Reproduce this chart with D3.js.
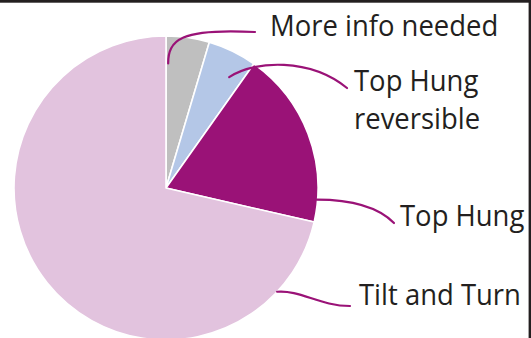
<!DOCTYPE html>
<html>
<head>
<meta charset="utf-8">
<script src="https://cdn.jsdelivr.net/npm/d3@7"></script>
<style>
  html, body { margin: 0; padding: 0; background: #fff; }
  svg { display: block; }
  text { font-family: "Open Sans", "Noto Sans", sans-serif; fill: #231f20; }
</style>
</head>
<body>
<svg id="chart" width="531" height="338"></svg>
<script>
// Window types, share of total (%)
const categories = ["More info needed", "Top Hung reversible", "Top Hung", "Tilt and Turn"];
const shares = [4.6, 5.2, 18.8, 71.4];
const labelLines = [["More info needed"], ["Top Hung", "reversible"], ["Top Hung"], ["Tilt and Turn"]];
const sliceColors = ["#bfbfbf", "#b4c7e7", "#9a1277", "#e2c3de"];

const W = 531, H = 338;
const cx = 166, cy = 188, R = 152;
const leaderColor = "#9a1277";
const fontSize = 30;
const condense = 0.915; // slightly narrowed glyphs
const lineGap = 38;

const svg = d3.select("#chart");

// frame lines along the top and right edges
svg.append("rect").attr("x", 0).attr("y", 0).attr("width", W).attr("height", 2.7).attr("fill", "#231f20");
svg.append("rect").attr("x", W - 2.4).attr("y", 0).attr("width", 2.4).attr("height", H).attr("fill", "#231f20");

const pie = d3.pie().sort(null).value(d => d)(shares);
const arc = d3.arc().innerRadius(0).outerRadius(R);
const color = d3.scaleOrdinal().domain(categories).range(sliceColors);

const g = svg.append("g").attr("transform", `translate(${cx},${cy})`);
g.selectAll("path.slice")
  .data(pie)
  .join("path")
  .attr("class", "slice")
  .attr("d", arc)
  .attr("fill", (d, i) => color(categories[i]))
  .attr("stroke", "#fff")
  .attr("stroke-width", 1.6)
  .attr("stroke-linejoin", "round");

// Leader placement: where it leaves the slice (fraction along the slice's angle,
// fraction of radius), the text anchor, and bezier handles toward the text.
const leaders = [
  { t: 0.06, r: 0.82, text: [270, 36], end: [-15, -4], c1: [0, -23], c2: [-75, -4] },
  { t: 0.70, r: 0.84, text: [354, 91], end: [-7, -3], c1: [26, -17], c2: [-37, -30] },
  { t: 0.874, r: 0.995, text: [400, 226], end: [-6, -3], c1: [33, 0], c2: [-16, -16] },
  { t: 0.117, r: 1.0, text: [359, 305], end: [-9, 1], c1: [23, -2], c2: [-30, 0] }
];

function polar(angle, rad) {
  return [cx + rad * Math.sin(angle), cy - rad * Math.cos(angle)];
}

const ann = svg.append("g");
pie.forEach((d, i) => {
  const L = leaders[i];
  const a = d.startAngle + L.t * (d.endAngle - d.startAngle);
  const p0 = polar(a, L.r * R);
  const p3 = [L.text[0] + L.end[0], L.text[1] + L.end[1]];
  const p = d3.path();
  p.moveTo(p0[0], p0[1]);
  p.bezierCurveTo(p0[0] + L.c1[0], p0[1] + L.c1[1], p3[0] + L.c2[0], p3[1] + L.c2[1], p3[0], p3[1]);
  ann.append("path")
    .attr("d", p.toString())
    .attr("fill", "none")
    .attr("stroke", leaderColor)
    .attr("stroke-width", 2.2)
    .attr("stroke-linecap", "round");

  const txt = ann.append("text")
    .attr("transform", `translate(${L.text[0]},${L.text[1]}) scale(${condense},1)`)
    .attr("font-size", fontSize);
  labelLines[i].forEach((line, j) => {
    txt.append("tspan").attr("x", 0).attr("dy", j === 0 ? 0 : lineGap).text(line);
  });
});
</script>
</body>
</html>
